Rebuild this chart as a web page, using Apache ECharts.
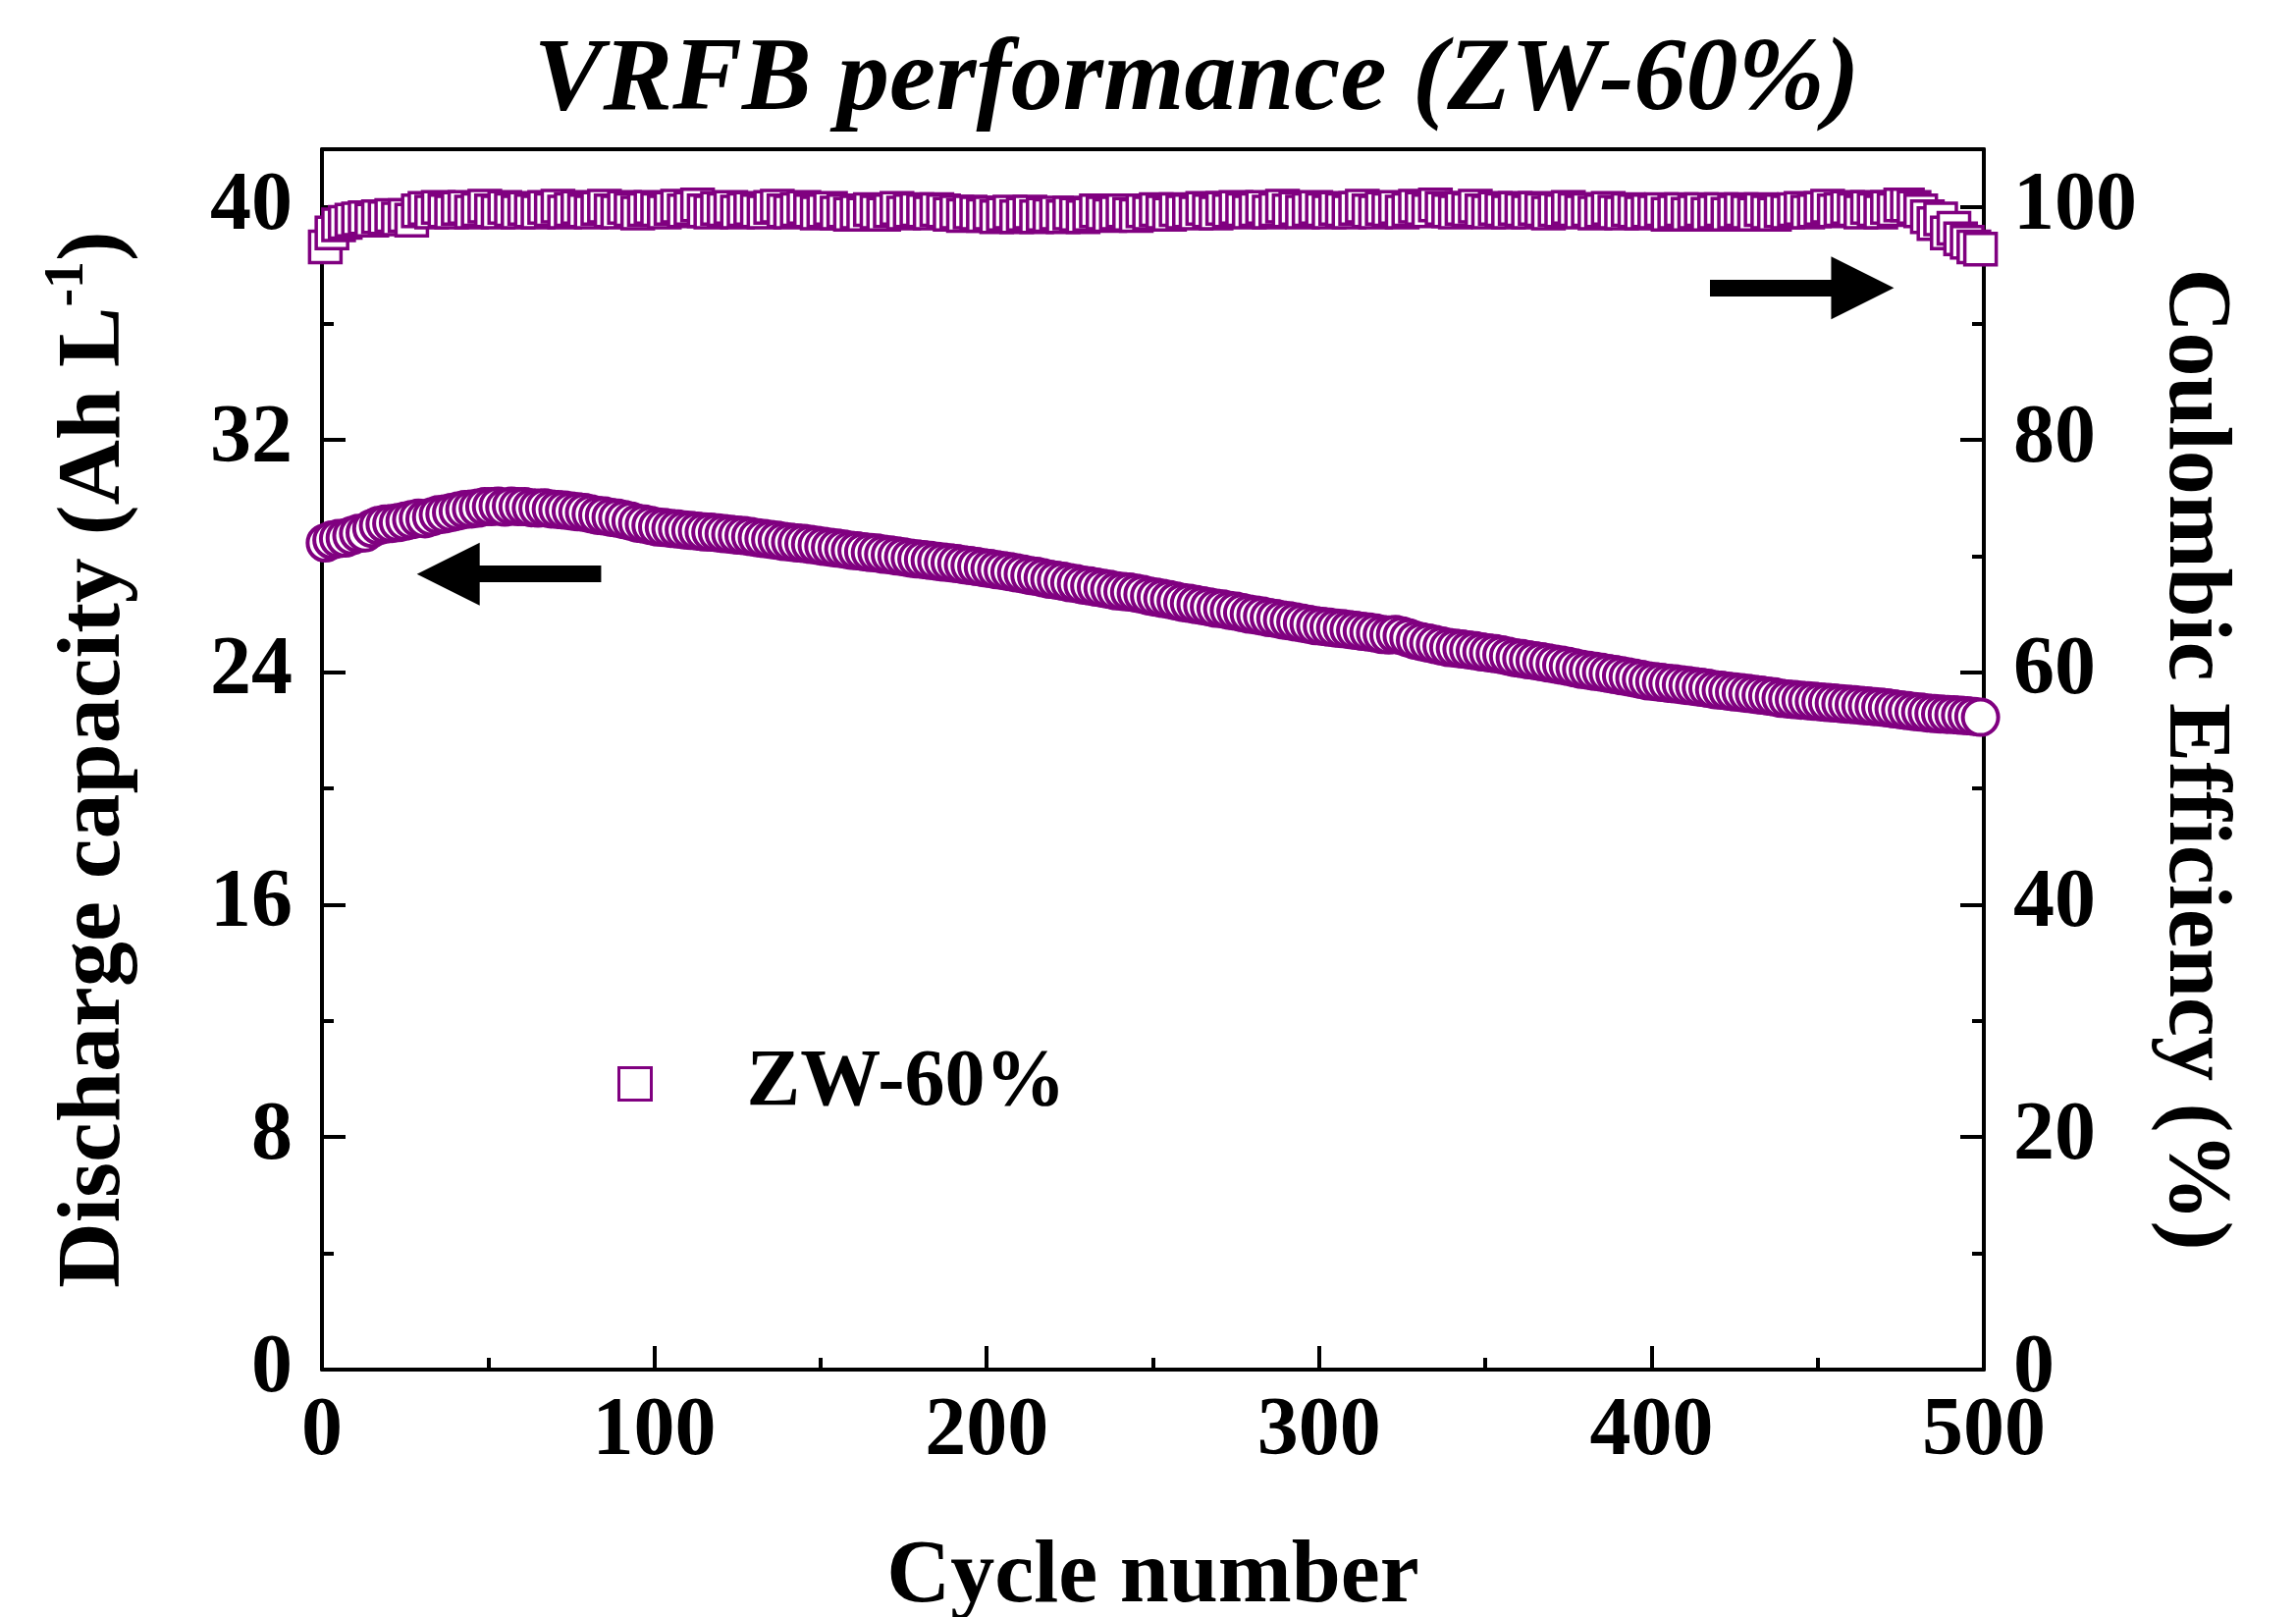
<!DOCTYPE html>
<html lang="en">
<head>
    <meta charset="UTF-8">
    <title>VRFB performance</title>
    <style>
        *{
            padding:0;
            margin:0;
        }
        html, body{
            height:100%;
            width:100%;
            background:#fff;
        }
        #main{
            width:2339px;
            height:1647px;
        }
    </style>
    <script src="https://cdn.jsdelivr.net/npm/echarts@6/dist/echarts.min.js"></script>
</head>
<body>
<div id="main"></div>
<script>
    // cycle 1, 3, 5 ... 499 (every second cycle)
    var cycleStart = 1;
    var cycleStep = 2;

    // discharge capacity, Ah L-1 (circles, left axis)
    var capacity = [
        28.45, 28.55, 28.6, 28.62, 28.7, 28.78, 28.8, 28.95, 29.05, 29.1,
        29.12, 29.15, 29.2, 29.25, 29.3, 29.28, 29.35, 29.42, 29.45, 29.5,
        29.55, 29.6, 29.62, 29.65, 29.7, 29.7, 29.72, 29.68, 29.72, 29.7,
        29.7, 29.66, 29.65, 29.66, 29.62, 29.6, 29.58, 29.55, 29.52, 29.5,
        29.45, 29.4, 29.38, 29.33, 29.3, 29.25, 29.2, 29.13, 29.1, 29.05,
        29.0, 28.98, 28.95, 28.93, 28.9, 28.88, 28.86, 28.83, 28.82, 28.8,
        28.77, 28.75, 28.72, 28.7, 28.67, 28.63, 28.6, 28.57, 28.54, 28.5,
        28.48, 28.45, 28.43, 28.4, 28.37, 28.33, 28.3, 28.27, 28.24, 28.2,
        28.18, 28.15, 28.12, 28.1, 28.06, 28.04, 28.0, 27.97, 27.93, 27.9,
        27.88, 27.85, 27.82, 27.79, 27.77, 27.74, 27.7, 27.67, 27.64, 27.6,
        27.57, 27.53, 27.5, 27.46, 27.42, 27.38, 27.33, 27.3, 27.25, 27.2,
        27.17, 27.13, 27.08, 27.05, 27.0, 26.97, 26.93, 26.89, 26.85, 26.8,
        26.78, 26.76, 26.72, 26.68, 26.62, 26.58, 26.54, 26.5, 26.45, 26.4,
        26.37, 26.33, 26.29, 26.25, 26.2, 26.18, 26.13, 26.1, 26.05, 26.0,
        25.97, 25.93, 25.88, 25.85, 25.8, 25.77, 25.73, 25.69, 25.65, 25.6,
        25.58, 25.55, 25.52, 25.5, 25.47, 25.44, 25.41, 25.38, 25.35, 25.3,
        25.28, 25.3, 25.25, 25.18, 25.1, 25.05, 25.0, 24.95, 24.9, 24.85,
        24.83, 24.8, 24.77, 24.74, 24.7, 24.67, 24.64, 24.6, 24.55, 24.5,
        24.47, 24.43, 24.4, 24.36, 24.32, 24.28, 24.24, 24.2, 24.15, 24.1,
        24.07, 24.03, 24.0, 23.96, 23.92, 23.88, 23.84, 23.8, 23.75, 23.7,
        23.68, 23.65, 23.62, 23.6, 23.57, 23.54, 23.51, 23.48, 23.45, 23.4,
        23.38, 23.35, 23.32, 23.3, 23.27, 23.24, 23.21, 23.18, 23.15, 23.1,
        23.08, 23.06, 23.04, 23.02, 23.0, 22.98, 22.96, 22.94, 22.92, 22.9,
        22.88, 22.86, 22.84, 22.82, 22.8, 22.77, 22.74, 22.71, 22.68, 22.65,
        22.63, 22.6, 22.58, 22.56, 22.55, 22.54, 22.52, 22.5, 22.48, 22.45
    ];

    // coulombic efficiency, % (squares, right axis)
    var efficiency = [
        96.6, 97.8, 98.5, 98.7, 98.9, 99.0, 99.1, 98.9, 99.2, 99.1,
        99.3, 99.0, 99.3, 98.9, 99.7, 99.9, 99.6, 100.0, 99.7, 99.6,
        99.9, 100.0, 99.6, 99.8, 100.1, 99.7, 99.6, 100.0, 99.8, 99.6,
        99.9, 99.7, 99.6, 100.0, 99.8, 100.1, 99.6, 99.8, 100.0, 99.7,
        99.6, 99.9, 100.1, 99.7, 99.6, 100.0, 99.8, 99.5, 99.8, 100.0,
        99.8, 99.6, 99.9, 100.1, 99.7, 99.9, 100.2, 99.7, 99.6, 99.9,
        99.8, 100.0, 99.6, 99.8, 99.9, 99.7, 99.6, 100.0, 100.1, 99.7,
        99.6, 99.8, 100.0, 99.7, 99.5, 99.7, 99.9, 99.5, 99.7, 99.4,
        99.6, 99.4, 99.8, 99.6, 99.4, 99.7, 99.9, 99.5, 99.7, 99.8,
        99.7, 99.5, 99.8, 99.7, 99.4, 99.6, 99.3, 99.6, 99.5, 99.3,
        99.5, 99.2, 99.4, 99.6, 99.2, 99.4, 99.6, 99.2, 99.4, 99.3,
        99.5, 99.2, 99.5, 99.4, 99.2, 99.4, 99.7, 99.5, 99.3, 99.5,
        99.7, 99.4, 99.3, 99.7, 99.5, 99.8, 99.6, 99.4, 99.8, 99.6,
        99.7, 99.5, 99.9, 99.7, 99.5, 99.9, 99.7, 100.0, 99.8, 99.6,
        99.8, 100.0, 99.6, 99.8, 100.1, 99.7, 99.9, 99.6, 99.8, 100.0,
        99.8, 99.6, 99.9, 99.8, 99.6, 99.9, 100.1, 99.7, 99.6, 99.9,
        99.8, 100.0, 99.6, 99.8, 100.1, 99.9, 99.7, 100.2, 99.9, 99.7,
        99.6, 99.9, 99.8, 100.1, 99.7, 99.6, 99.9, 99.8, 99.6, 99.9,
        99.8, 99.6, 99.9, 99.8, 99.5, 99.8, 99.7, 100.0, 99.8, 99.6,
        99.8, 99.5, 99.7, 99.9, 99.6, 99.5, 99.8, 99.7, 99.5, 99.7,
        99.6, 99.8, 99.4, 99.6, 99.8, 99.4, 99.6, 99.8, 99.4, 99.6,
        99.8, 99.4, 99.6, 99.8, 99.6, 99.4, 99.8, 99.6, 99.4, 99.7,
        99.6, 99.8, 99.9, 99.6, 99.7, 99.9, 100.1, 99.7, 99.8, 100.0,
        99.8, 99.6, 100.0, 99.8, 99.6, 100.0, 99.8, 100.2, 100.2, 100.0,
        99.7, 99.2, 98.6, 99.0, 97.8, 98.2, 97.3, 97.0, 96.6, 96.4
    ];

    // tick values
    var xTicks = [0, 100, 200, 300, 400, 500];
    var capMajor = [0, 8, 16, 24, 32, 40];
    var capMinor = [4, 12, 20, 28, 36];
    var ceMajor = [0, 20, 40, 60, 80, 100];
    var ceMinor = [10, 30, 50, 70, 90];

    // arrow annotations: [from cycle, to cycle, value]
    var capArrow = [84, 38, 27.38];
    var ceArrow = [417.6, 463.5, 93.06];

    var purple = '#800080';
    var font = '"Liberation Serif", "Times New Roman", serif';

    function pairs(values){
        var out = [];
        for (var i = 0; i < values.length; i++) {
            out.push([cycleStart + cycleStep * i, values[i]]);
        }
        return out;
    }

    function arrowLine(a){
        return {
            silent: true,
            symbol: ['none', 'triangle'],
            symbolSize: [64, 64],
            label: {show: false},
            lineStyle: {color: '#000', width: 17, type: 'solid'},
            emphasis: {disabled: true},
            data: [[{coord: [a[0], a[2]]}, {coord: [a[1], a[2]]}]]
        };
    }

    var labelStyle = {
        fontFamily: font,
        fontWeight: 'bold',
        fontSize: 84,
        color: '#000'
    };

    function yAxisPair(pos, max, major, minor, name, nameGap, nameRotate, rich){
        return [{
            type: 'value',
            position: pos,
            min: 0,
            max: max,
            name: name,
            nameLocation: 'middle',
            nameGap: nameGap,
            nameRotate: nameRotate,
            nameTextStyle: {
                fontFamily: font,
                fontWeight: 'bold',
                fontSize: 90,
                color: '#000',
                rich: rich
            },
            axisLine: {show: true, onZero: false, lineStyle: {color: '#000', width: 4}},
            axisTick: {show: true, inside: true, length: 24, customValues: major,
                lineStyle: {color: '#000', width: 4}},
            axisLabel: Object.assign({customValues: major, margin: 30}, labelStyle),
            splitLine: {show: false}
        }, {
            type: 'value',
            position: pos,
            min: 0,
            max: max,
            axisLine: {show: false, onZero: false},
            axisTick: {show: true, inside: true, length: 12, customValues: minor,
                lineStyle: {color: '#000', width: 4}},
            axisLabel: {show: false},
            splitLine: {show: false}
        }];
    }

    var leftAxes = yAxisPair('left', 42, capMajor, capMinor,
        '{t|Discharge capacity (Ah L}{s|-1}{t|)}', 176, 90, {
            t: {fontFamily: font, fontWeight: 'bold', fontSize: 92, lineHeight: 110, color: '#000'},
            s: {fontFamily: font, fontWeight: 'bold', fontSize: 56, lineHeight: 56,
                verticalAlign: 'top', color: '#000'}
        });
    var rightAxes = yAxisPair('right', 105, ceMajor, ceMinor,
        'Coulombic Efficiency (%)', 168, -90, null);

    var myChart = echarts.init(document.getElementById('main'), null, {renderer: 'canvas'});

    var option = {
        backgroundColor: '#fff',
        animation: false,
        title: {
            text: 'VRFB performance (ZW-60%)',
            left: 1214,
            top: 26,
            textAlign: 'center',
            textStyle: {
                fontFamily: font,
                fontWeight: 'bold',
                fontStyle: 'italic',
                fontSize: 106,
                color: '#000'
            }
        },
        grid: {
            left: 328,
            right: 318,
            top: 152,
            bottom: 252,
            containLabel: false,
            outerBoundsMode: 'none'
        },
        legend: {
            data: ['ZW-60%'],
            left: 624,
            top: 1058,
            itemWidth: 33,
            itemHeight: 33,
            itemStyle: {color: '#fff', borderColor: purple, borderWidth: 3},
            textStyle: {
                fontFamily: font,
                fontWeight: 'bold',
                fontSize: 82,
                color: '#000',
                padding: [0, 0, 0, 92]
            }
        },
        xAxis: [{
            type: 'value',
            position: 'bottom',
            min: 0,
            max: 500,
            interval: 100,
            name: 'Cycle number',
            nameLocation: 'middle',
            nameGap: 168,
            nameTextStyle: {
                fontFamily: font,
                fontWeight: 'bold',
                fontSize: 90,
                color: '#000'
            },
            axisLine: {show: true, onZero: false, lineStyle: {color: '#000', width: 4}},
            axisTick: {show: true, inside: true, length: 24, lineStyle: {color: '#000', width: 4}},
            minorTick: {show: true, splitNumber: 2, length: 12, lineStyle: {color: '#000', width: 4}},
            axisLabel: Object.assign({margin: 22, customValues: xTicks}, labelStyle),
            splitLine: {show: false},
            minorSplitLine: {show: false}
        }, {
            type: 'value',
            position: 'top',
            min: 0,
            max: 500,
            axisLine: {show: true, onZero: false, lineStyle: {color: '#000', width: 4}},
            axisTick: {show: false},
            axisLabel: {show: false},
            splitLine: {show: false}
        }],
        yAxis: leftAxes.concat(rightAxes),
        series: [{
            name: 'capacity',
            type: 'scatter',
            xAxisIndex: 0,
            yAxisIndex: 0,
            symbol: 'circle',
            symbolSize: 36,
            itemStyle: {color: '#fff', borderColor: purple, borderWidth: 4, opacity: 1},
            data: pairs(capacity),
            markLine: arrowLine(capArrow)
        }, {
            name: 'ZW-60%',
            type: 'scatter',
            xAxisIndex: 0,
            yAxisIndex: 2,
            symbol: 'rect',
            symbolSize: 32,
            itemStyle: {color: '#fff', borderColor: purple, borderWidth: 3.5, opacity: 1},
            data: pairs(efficiency),
            markLine: arrowLine(ceArrow)
        }]
    };
    myChart.setOption(option);
</script>
</body>
</html>
